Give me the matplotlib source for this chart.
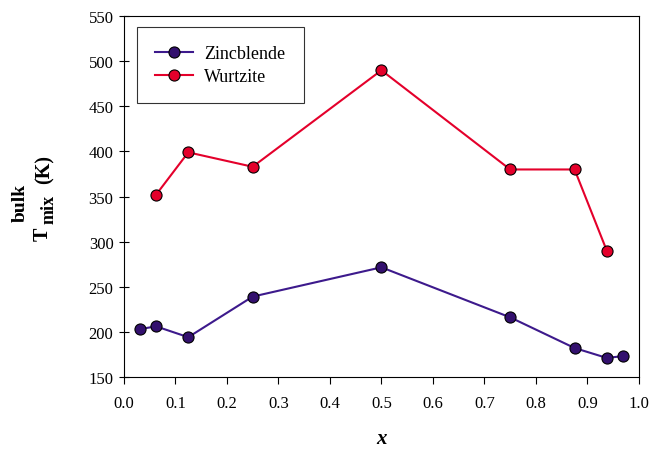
import matplotlib
matplotlib.use('Agg')
import matplotlib.pyplot as plt

plt.rcParams['font.family'] = ['Liberation Serif', 'DejaVu Serif']

# composition x and mixing temperature (K)
zb_x = [0.03125, 0.0625, 0.125, 0.25, 0.5, 0.75, 0.875, 0.9375, 0.96875]
zb_t = [203, 206, 194, 239, 271.5, 216, 182, 171, 173]
wz_x = [0.0625, 0.125, 0.25, 0.5, 0.75, 0.875, 0.9375]
wz_t = [352, 399, 383, 490, 380, 380, 290]

fig = plt.figure(figsize=(6.52, 4.52), dpi=100)
ax = fig.add_axes([0.190, 0.164, 0.790, 0.798])

ax.plot(zb_x, zb_t, '-o', color='#3d1a8c', lw=1.5, ms=8,
        mfc='#33106e', mec='black', mew=0.8, label='Zincblende')
ax.plot(wz_x, wz_t, '-o', color='#e4002b', lw=1.5, ms=8,
        mfc='#e4002b', mec='black', mew=0.8, label='Wurtzite')

ax.set_xlim(0, 1.0)
ax.set_ylim(150, 550)
ax.set_xticks([i / 10 for i in range(11)])
ax.set_yticks(range(150, 551, 50))
ax.tick_params(axis='x', direction='out', length=5, width=0.8, labelsize=12, pad=8)
ax.tick_params(axis='y', direction='inout', length=7, width=0.8, labelsize=12, pad=4)
for s in ax.spines.values():
    s.set_linewidth(0.8)

ax.set_xlabel('x', fontsize=15, fontweight='bold', style='italic', labelpad=12)

# stacked y label: "bulk" above T_mix (K), pieces placed one by one
lab = dict(rotation=90, fontweight='bold', ha='center', va='bottom')
fig.text(0.031, 1 - 222 / 452, 'bulk', fontsize=14, **lab)
fig.text(0.065, 1 - 241 / 452, 'T', fontsize=14.5, **lab)
fig.text(0.076, 1 - 224 / 452, 'mix', fontsize=13, **lab)
fig.text(0.068, 1 - 184 / 452, '(K)', fontsize=14.5, **lab)

leg = ax.legend(loc='upper left', bbox_to_anchor=(0.025, 0.970), borderaxespad=0,
                fontsize=13, frameon=True, fancybox=False, edgecolor='black',
                handlelength=2.1, borderpad=1.0, labelspacing=0.35,
                handletextpad=0.65)
leg.get_frame().set_linewidth(0.8)

fig.savefig('out.png', dpi=100, facecolor='white')
